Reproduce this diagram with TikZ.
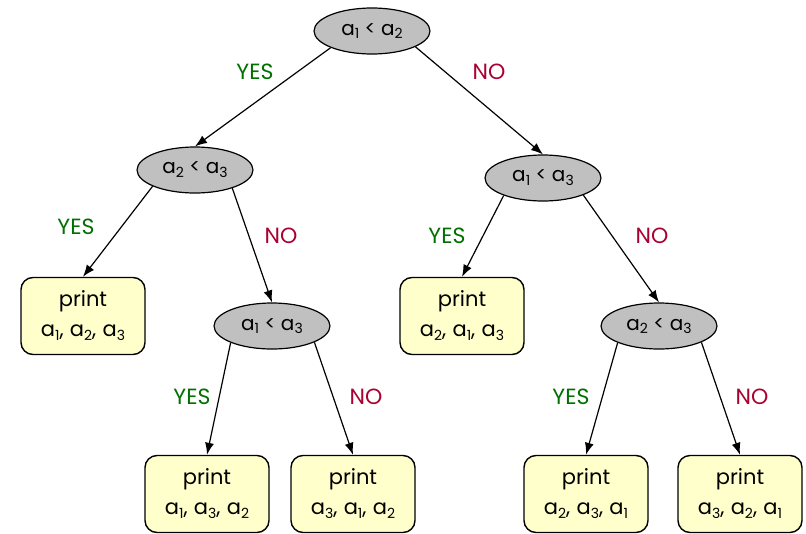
\documentclass[tikz,border=0pt]{standalone}
\usepackage{fontspec}
\setmainfont{Poppins}
\usetikzlibrary{shapes.geometric,arrows.meta}
\definecolor{yescol}{RGB}{0,112,0}
\definecolor{nocol}{RGB}{170,0,50}
\definecolor{ellfill}{RGB}{192,192,192}
\definecolor{boxfill}{RGB}{255,255,204}
\newcommand\ix[1]{\raisebox{-0.35ex}{\fontsize{14}{14}\selectfont #1}}
\newcommand\cm{,\hspace{0.3em}}
\tikzset{
  test/.style={ellipse, draw, line width=1.2pt, fill=ellfill, minimum width=116pt, minimum height=46pt, inner sep=0pt, font=\fontsize{20}{22}\selectfont},
  leaf/.style={draw, line width=1.4pt, fill=boxfill, rounded corners=12pt, minimum width=124pt, minimum height=77pt, inner sep=0pt, align=center, font=\fontsize{21}{30}\selectfont},
  yeslab/.style={text=yescol, font=\fontsize{22}{24}\selectfont},
  nolab/.style={text=nocol, font=\fontsize{22}{24}\selectfont},
  arr/.style={-{Latex[length=12pt,width=9pt]}, line width=1.2pt}
}
\begin{document}
\begin{tikzpicture}[x=1pt,y=-1pt]
\useasboundingbox (0,0) rectangle (806,533);
\node[test] (root) at (372,31) {a\ix{1} < a\ix{2}};
\node[test] (L) at (195,170) {a\ix{2} < a\ix{3}};
\node[test] (R) at (543,178) {a\ix{1} < a\ix{3}};
\node[test] (LR) at (272,326) {a\ix{1} < a\ix{3}};
\node[test] (RR) at (659,326) {a\ix{2} < a\ix{3}};
\node[leaf] (b1) at (83,316) {print\\a\ix{1}\cm{}a\ix{2}\cm{}a\ix{3}};
\node[leaf] (b2) at (462,316) {print\\a\ix{2}\cm{}a\ix{1}\cm{}a\ix{3}};
\node[leaf] (b3) at (207,494) {print\\a\ix{1}\cm{}a\ix{3}\cm{}a\ix{2}};
\node[leaf] (b4) at (353,494) {print\\a\ix{3}\cm{}a\ix{1}\cm{}a\ix{2}};
\node[leaf] (b5) at (586,494) {print\\a\ix{2}\cm{}a\ix{3}\cm{}a\ix{1}};
\node[leaf] (b6) at (740,494) {print\\a\ix{3}\cm{}a\ix{2}\cm{}a\ix{1}};
\draw[arr] (root.202) -- (L.north);
\draw[arr] (root.340) -- (R.north);
\draw[arr] (L.201) -- (b1.north);
\draw[arr] (L.334) -- (LR.north);
\draw[arr] (R.204) -- (b2.north);
\draw[arr] (R.337) -- (RR.north);
\draw[arr] (LR.202) -- (b3.north);
\draw[arr] (LR.339) -- (b4.north);
\draw[arr] (RR.202) -- (b5.north);
\draw[arr] (RR.339) -- (b6.north);
\node[yeslab] (y1) at (255,72) {YES};
\node[nolab] (n1) at (489,72) {NO};
\node[yeslab] (y2) at (76,227) {YES};
\node[nolab] (n2) at (281,236) {NO};
\node[yeslab] (y3) at (447,236) {YES};
\node[nolab] (n3) at (652,236) {NO};
\node[yeslab] (y4) at (192,397) {YES};
\node[nolab] (n4) at (366,397) {NO};
\node[yeslab] (y5) at (571,397) {YES};
\node[nolab] (n5) at (752,397) {NO};
\end{tikzpicture}
\end{document}
